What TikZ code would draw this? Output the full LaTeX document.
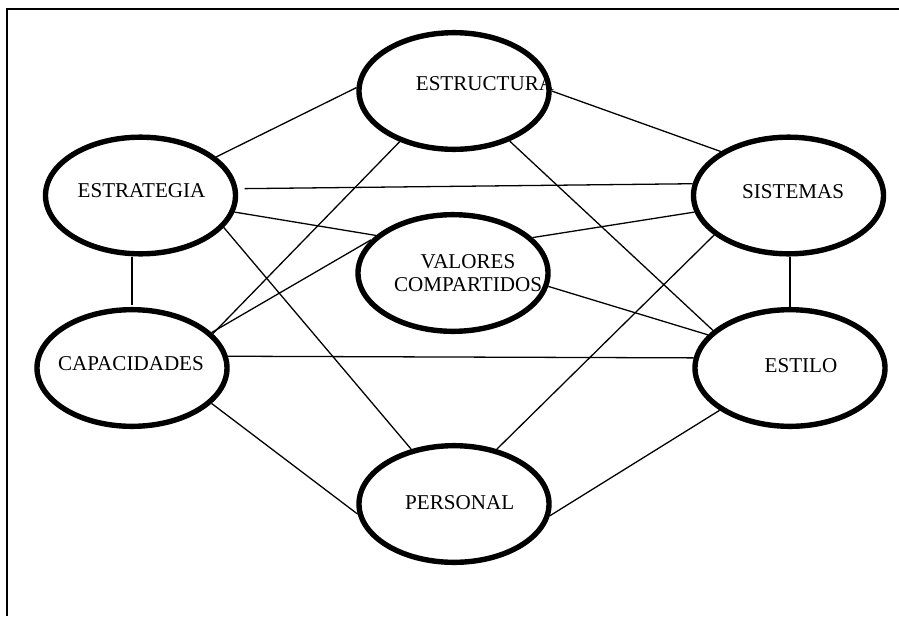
\documentclass[tikz,border=0pt]{standalone}
\usepackage{fontspec}
\setmainfont{Liberation Serif}
\usetikzlibrary{shapes.geometric}

\begin{document}
\begin{tikzpicture}[x=0.03cm, y=-0.03cm,
  ell/.style={draw, ellipse, line width=4.6pt, minimum width=5.7cm, minimum height=3.5cm, inner sep=0pt},
  lbl/.style={font=\fontsize{18}{19}\selectfont, align=center, inner sep=0pt},
  conn/.style={line width=1.1pt},
  frm/.style={line width=2pt}
]
\useasboundingbox (0,0) rectangle (899,616);
\draw[frm] (899,9) -- (7,9) -- (7,616);

\node[ell, label={[lbl, xshift=0.93cm, yshift=0.21cm]center:ESTRUCTURA}] (est) at (454,91) {};
\node[ell, label={[lbl, xshift=0.03cm, yshift=0.15cm]center:ESTRATEGIA}] (estr) at (140.5,195.5) {};
\node[ell, label={[lbl, xshift=0.14cm, yshift=0.12cm]center:SISTEMAS}] (sis) at (788.5,195.5) {};
\node[ell, label={[lbl, xshift=0.45cm, yshift=0cm]center:{VALORES\\COMPARTIDOS}}] (val) at (453,273) {};
\node[ell, label={[lbl, xshift=-0.03cm, yshift=0.12cm]center:CAPACIDADES}] (cap) at (132,368) {};
\node[ell, label={[lbl, xshift=0.33cm, yshift=0.06cm]center:ESTILO}] (esti) at (790,368) {};
\node[ell, label={[lbl, xshift=0.17cm, yshift=0.03cm]center:PERSONAL}] (per) at (454,504) {};

% outer ring
\draw[conn] (estr.27) -- (est.178);
\draw[conn] (est.0) -- (sis.147);
\draw[conn, shorten <=0.06cm] (cap.north) -- (cap.north |- estr.south);
\draw[conn] (esti.north) -- (esti.north |- sis.south);
\draw[conn] (cap.-24) -- (per.-174);
\draw[conn] (esti.-149) -- (per.-7);

% cross links
\draw[conn, shorten <=0.21cm] (estr.4) -- (sis.173);
\draw[conn] (cap.7) -- (esti.174);
\draw[conn] (cap.23) -- (est.-137);
\draw[conn] (est.-42) -- (esti.154);
\draw[conn] (estr.-21) -- (per.128);
\draw[conn] (sis.-152) -- (per.52);

% shared values
\draw[conn] (estr.-10) -- (val.154);
\draw[conn] (val.24) -- (sis.-170);
\draw[conn] (cap.24) -- (val.158);
\draw[conn] (val.-8) -- (esti.158);
\end{tikzpicture}
\end{document}
